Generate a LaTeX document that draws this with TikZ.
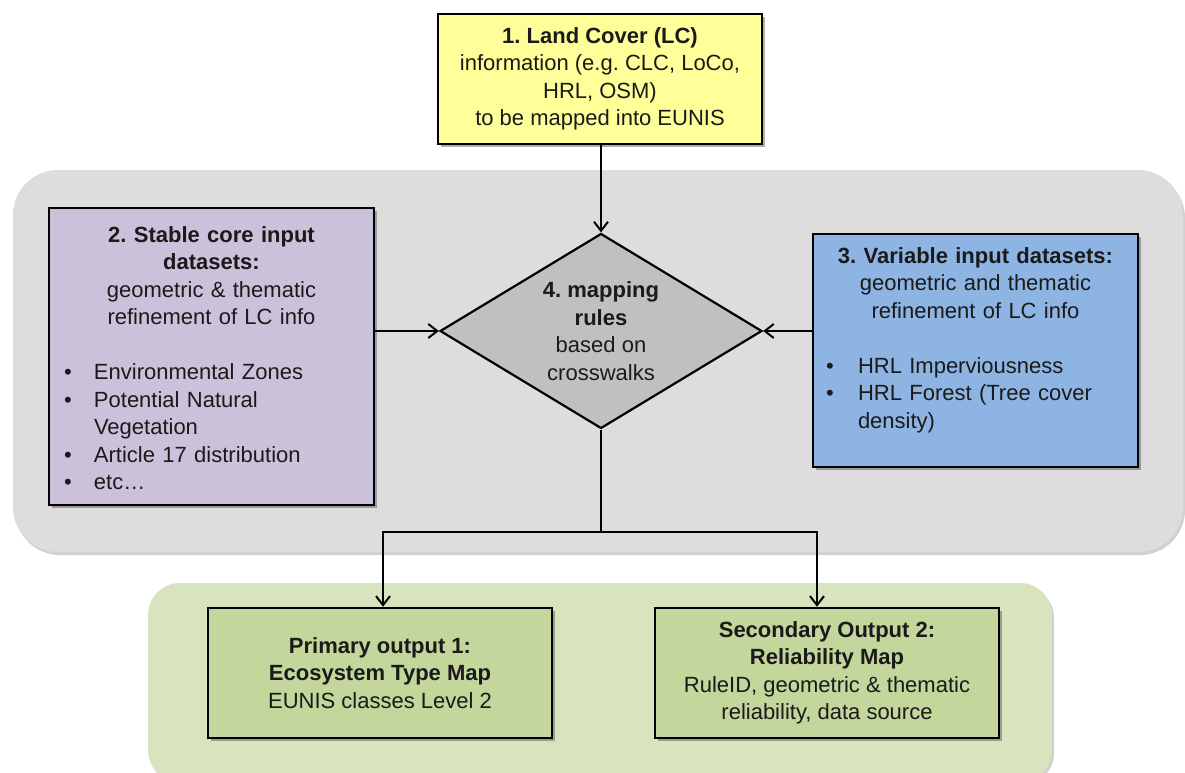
\documentclass[tikz,border=0pt]{standalone}
\usepackage{fontspec}
\setmainfont{Liberation Sans}
\usetikzlibrary{shapes.geometric,shadows,arrows.meta}
\definecolor{yellowfill}{HTML}{FFFF99}
\definecolor{purplefill}{HTML}{CCC1DA}
\definecolor{bluefill}{HTML}{8EB4E3}
\definecolor{diamondfill}{HTML}{C0C0C0}
\definecolor{graybg}{HTML}{DDDDDD}
\definecolor{greenbg}{HTML}{D7E4BD}
\definecolor{greenbox}{HTML}{C3D69B}
\definecolor{textcol}{HTML}{1A1A1A}
\frenchspacing
\begin{document}
\begin{tikzpicture}[x=1pt,y=-1pt,
  txt/.style={font=\fontsize{22}{27.5}\selectfont, text=textcol},
  box/.style={txt, draw=black, line width=2.5pt, rectangle, align=center, inner sep=0pt,
    drop shadow={shadow xshift=3pt, shadow yshift=-3pt, opacity=0.45, fill=black!70}},
  panel/.style={rectangle, draw=none, inner sep=0pt,
    drop shadow={shadow xshift=2pt, shadow yshift=-3pt, opacity=0.3, fill=black!60}},
  rulebox/.style={txt, diamond, draw=black, line width=2.2pt, fill=diamondfill, inner sep=0pt,
    aspect=1.65, minimum width=322pt, minimum height=195pt, align=center},
  line/.style={draw=black, line width=2pt},
  conn/.style={line, -{Straight Barb[length=9pt,width=14pt,line width=2pt]}},
]
\useasboundingbox (0,0) rectangle (1185,773);
\fill[white] (0,0) rectangle (1185,773);
\begin{scope}
\clip (0,0) rectangle (1185,773);
\node[panel, fill=graybg, rounded corners=45pt, minimum width=1170pt, minimum height=382pt] (inputpanel) at (598,361) {};
\node[panel, fill=greenbg, rounded corners=32pt, minimum width=904pt, minimum height=199pt] (outputpanel) at (600,682.5) {};
\end{scope}

% 1. Land cover
\node[box, fill=yellowfill, minimum width=324pt, minimum height=130pt] (lc) at (600,79)
  {\textbf{1. Land Cover (LC)}\\information (e.g. CLC, LoCo,\\HRL, OSM)\\to be mapped into EUNIS};

% 2. Stable core
\node[box, fill=purplefill, minimum width=325pt, minimum height=297pt] (stable) at (211.5,356.5) {};
\node[txt, anchor=north, text width=325pt, align=center, inner sep=0pt] (stabletext) at (211.5,226)
  {\textbf{2. Stable core input}\\\textbf{datasets:}\\geometric \& thematic\\refinement of LC info\\[27.5pt]
   \makebox[325pt][l]{\hspace{15pt}\makebox[30pt][l]{•}Environmental Zones}\\
   \makebox[325pt][l]{\hspace{15pt}\makebox[30pt][l]{•}Potential Natural}\\
   \makebox[325pt][l]{\hspace{45pt}Vegetation}\\
   \makebox[325pt][l]{\hspace{15pt}\makebox[30pt][l]{•}Article 17 distribution}\\
   \makebox[325pt][l]{\hspace{15pt}\makebox[30pt][l]{•}etc…}};

% 3. Variable
\node[box, fill=bluefill, minimum width=325pt, minimum height=233pt] (variable) at (975.5,350.5) {};
\node[txt, anchor=north, text width=325pt, align=center, inner sep=0pt] (variabletext) at (975.5,247)
  {\textbf{3. Variable input datasets:}\\geometric and thematic\\refinement of LC info\\[27.5pt]
   \makebox[325pt][l]{\hspace{13pt}\makebox[32pt][l]{•}HRL Imperviousness}\\
   \makebox[325pt][l]{\hspace{13pt}\makebox[32pt][l]{•}HRL Forest (Tree cover}\\
   \makebox[325pt][l]{\hspace{45pt}density)}};

% 4. Mapping rules
\node[rulebox] (rules) at (601,331)
  {\textbf{4. mapping}\\\textbf{rules}\\based on\\crosswalks};

% Outputs
\node[box, fill=greenbox, minimum width=344pt, minimum height=130pt] (primary) at (380,673)
  {\textbf{Primary output 1:}\\\textbf{Ecosystem Type Map}\\EUNIS classes Level 2};
\node[box, fill=greenbox, minimum width=344pt, minimum height=130pt] (secondary) at (827,673)
  {\textbf{Secondary Output 2:}\\\textbf{Reliability Map}\\RuleID, geometric \& thematic\\reliability, data source};

% Connectors
\coordinate (split) at (601,532);
\coordinate (jl) at (383,532);
\coordinate (jr) at (817,532);
\draw[conn] (lc.south -| rules.north) -- (rules.north);
\draw[conn] (stable.east |- rules.west) -- (rules.west);
\draw[conn] (variable.west |- rules.east) -- (rules.east);
\draw[line] (rules.south) -- (split);
\draw[conn] (split) -- (jl) -- (jl |- primary.north);
\draw[conn] (split) -- (jr) -- (jr |- secondary.north);
\end{tikzpicture}
\end{document}
